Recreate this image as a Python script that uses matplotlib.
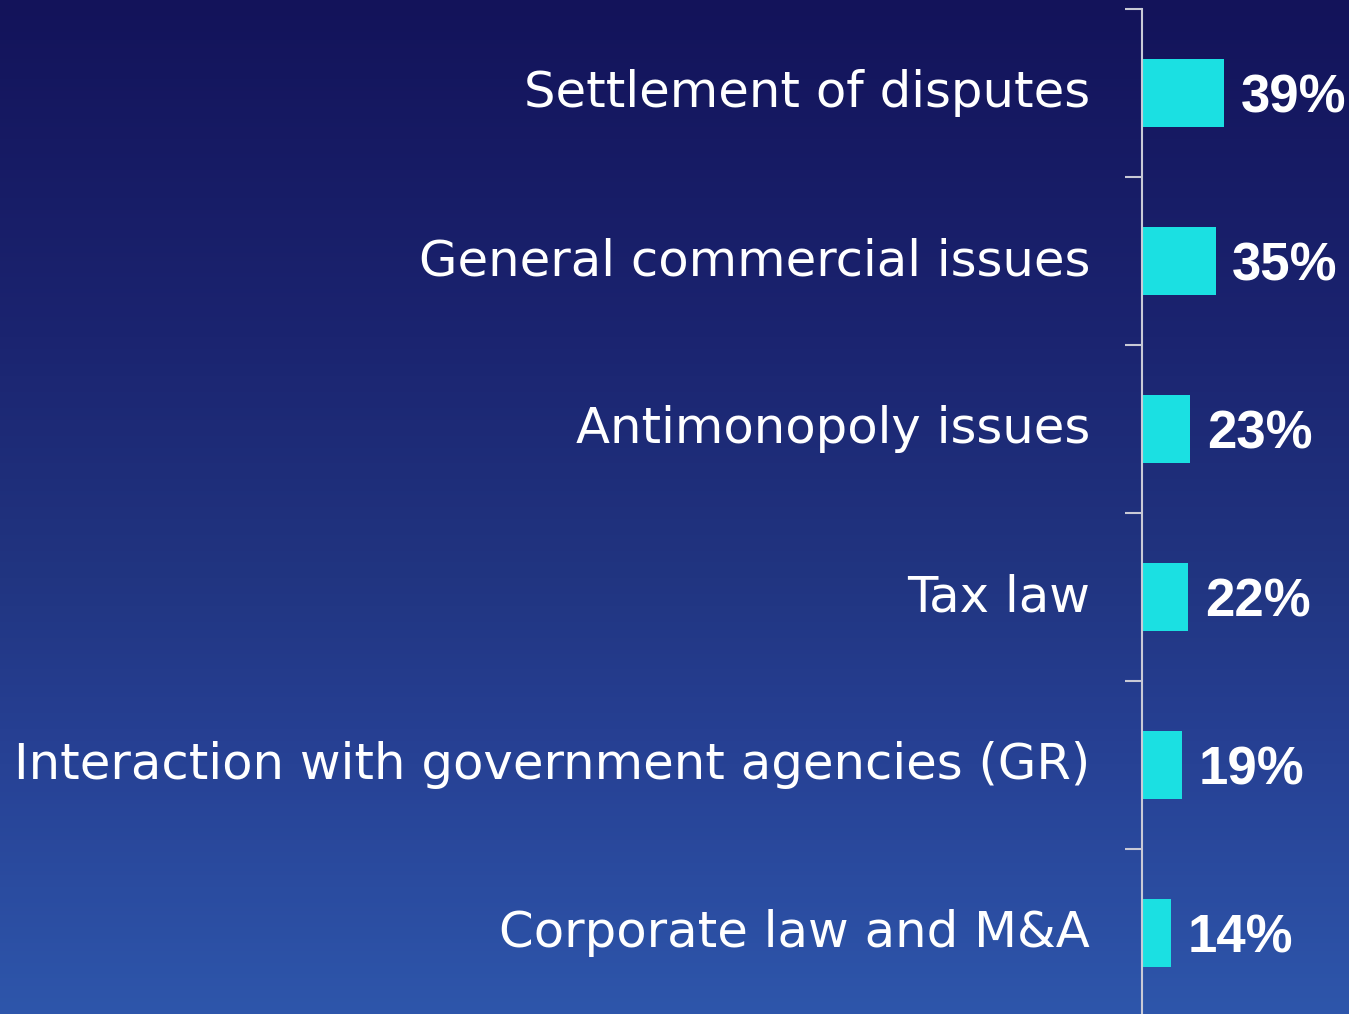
import numpy as np
import matplotlib.pyplot as plt
from matplotlib.colors import LinearSegmentedColormap

categories = ['Settlement of disputes', 'General commercial issues', 'Antimonopoly issues',
              'Tax law', 'Interaction with government agencies (GR)', 'Corporate law and M&A']
values = [39, 35, 23, 22, 19, 14]
value_labels = ['39%', '35%', '23%', '22%', '19%', '14%']

bar_color = '#1be0e2'
axis_color = '#c9cad6'

fig = plt.figure(figsize=(13.49, 10.14), dpi=100)

# background gradient, dark navy on top to blue at the bottom
bg = fig.add_axes([0, 0, 1, 1], zorder=0)
grad = LinearSegmentedColormap.from_list(
    'bg', [(0, '#13135a'), (0.33, '#1b2470'), (0.57, '#213581'), (0.72, '#263f92'), (1, '#2e56ab')])
bg.imshow(np.linspace(0, 1, 256).reshape(-1, 1), aspect='auto', cmap=grad,
          extent=[0, 1, 1, 0])
bg.axis('off')

ax = fig.add_axes([1142 / 1349, -3 / 1014, 207 / 1349, 1008 / 1014], zorder=1)
ax.patch.set_alpha(0)
y = np.arange(len(categories))
ax.barh(y, values, height=0.4, color=bar_color, zorder=2)

ax.set_xlim(0, 207 / 2.1)
ax.set_ylim(len(categories) - 0.5, -0.5)

# category labels as major ticks (hidden), separators as minor ticks
ax.set_yticks(y, labels=categories)
ax.tick_params(axis='y', which='major', length=0, pad=37.5, labelsize=35.8,
               labelcolor='white')
for lab in ax.get_yticklabels():
    lab.set_fontfamily('DejaVu Sans')
    lab.set_verticalalignment('center')
ax.set_yticks(np.arange(len(categories) + 1) - 0.5, minor=True)
ax.tick_params(axis='y', which='minor', length=12.2, width=1.5, color=axis_color)
ax.set_xticks([])

for s in ['top', 'right', 'bottom']:
    ax.spines[s].set_visible(False)
ax.spines['left'].set_color(axis_color)
ax.spines['left'].set_linewidth(1.5)

for yi, v, lab in zip(y, values, value_labels):
    ax.annotate(lab, (v, yi), xytext=(12, 0), textcoords='offset points',
                va='center_baseline', ha='left', color='white', fontsize=38,
                fontweight='bold', fontfamily='Liberation Sans', annotation_clip=False)

fig.savefig('out.png', dpi=100)
